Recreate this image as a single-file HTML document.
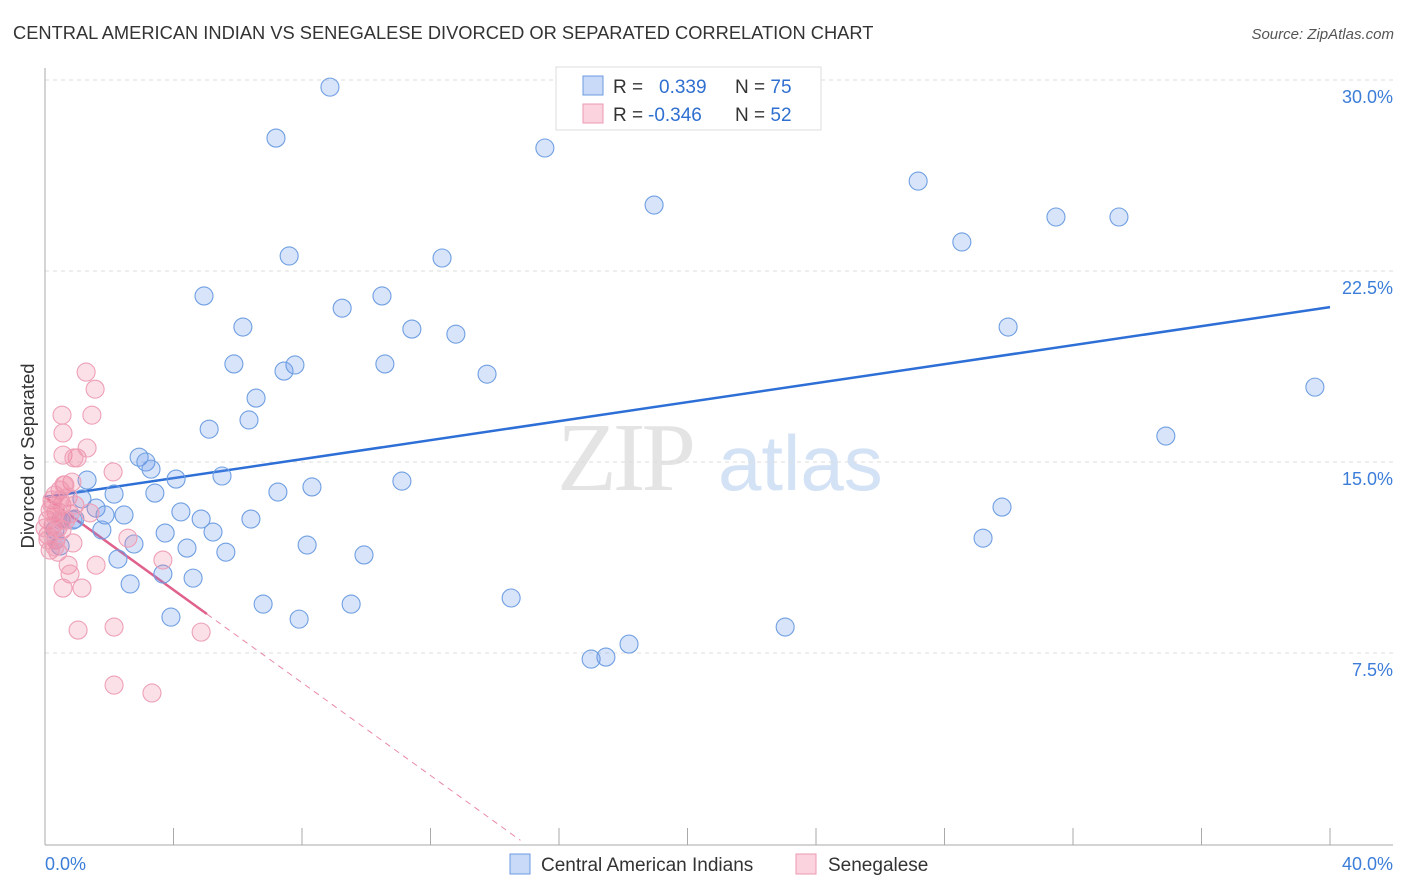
<!DOCTYPE html>
<html><head><meta charset="utf-8"><style>
body{margin:0;background:#fff;font-family:"Liberation Sans",sans-serif;}
#wrap{position:relative;width:1406px;height:892px;overflow:hidden;}
</style></head><body>
<div id="wrap">
<svg id="svg" width="1406" height="892" xmlns="http://www.w3.org/2000/svg">
<text x="13" y="39" font-size="18.3" fill="#333">CENTRAL AMERICAN INDIAN VS SENEGALESE DIVORCED OR SEPARATED CORRELATION CHART</text>
<text x="1394" y="39" font-size="15" fill="#555" font-style="italic" text-anchor="end">Source: ZipAtlas.com</text>
<text transform="translate(34,456) rotate(-90)" font-size="18.5" fill="#333" text-anchor="middle">Divorced or Separated</text>
<g>
<text x="692" y="490" font-size="98" font-family="Liberation Serif,serif" fill="#e4e4e4" text-anchor="end" letter-spacing="-4">ZIP</text>
<text x="718" y="490" font-size="78" fill="#d4e2f5">atlas</text>
</g>
<g id="grid"></g>
<g id="axes"></g>
<g id="lines"></g>
<g id="pts"></g>
<g>
<rect x="556" y="67" width="265" height="63" fill="#fff" stroke="#ddd"/>
<rect x="583" y="76" width="20" height="19" fill="rgba(100,149,237,0.35)" stroke="#6a9be0"/>
<rect x="583" y="104" width="20" height="19" fill="rgba(240,130,160,0.35)" stroke="#ec9ab3"/>
<text x="613" y="93" font-size="19" fill="#333">R = <tspan fill="#2f6fd0" x="659">0.339</tspan><tspan fill="#333" x="735">N = </tspan><tspan fill="#2f6fd0">75</tspan></text>
<text x="613" y="121" font-size="19" fill="#333">R = <tspan fill="#2f6fd0" x="648">-0.346</tspan><tspan fill="#333" x="735">N = </tspan><tspan fill="#2f6fd0">52</tspan></text>
</g>
<g>
<rect x="510" y="854" width="20" height="20" fill="rgba(100,149,237,0.35)" stroke="#6a9be0"/>
<text x="541" y="871" font-size="19" fill="#333">Central American Indians</text>
<rect x="796" y="854" width="20" height="20" fill="rgba(240,130,160,0.35)" stroke="#ec9ab3"/>
<text x="828" y="871" font-size="19" fill="#333">Senegalese</text>
</g>
</svg>
</div>
<script>
const yTicks=[7.5,15.0,22.5,30.0];
const yTickLabels=["7.5%","15.0%","22.5%","30.0%"];
const xTicks=[0,4,8,12,16,20,24,28,32,36,40];
const xLabels=["0.0%","40.0%"];
const blueX=[8.87,7.19,15.56,27.18,18.96,31.47,33.43,7.60,12.36,28.54,4.95,10.49,9.25,6.16,11.42,12.79,29.98,5.88,7.78,10.58,7.44,13.76,39.53,6.57,6.35,5.11,34.89,2.93,3.14,3.30,4.08,5.51,1.31,11.11,8.31,7.25,3.42,2.15,1.15,1.59,29.79,4.23,2.46,1.87,0.93,4.86,6.41,0.50,0.87,0.31,1.77,3.74,5.23,29.20,0.34,2.77,8.16,0.47,4.42,5.63,9.93,2.27,3.67,4.61,2.65,14.51,6.79,9.53,3.92,7.91,23.04,18.18,17.46,17.00];
const blueY=[29.72,27.72,27.33,26.03,25.09,24.62,24.62,23.09,23.01,23.64,21.52,21.52,21.04,20.30,20.22,20.02,20.30,18.85,18.81,18.85,18.57,18.45,17.94,17.51,16.65,16.29,16.02,15.19,15.00,14.72,14.33,14.45,14.29,14.25,14.02,13.82,13.78,13.74,13.55,13.19,13.23,13.04,12.92,12.92,12.76,12.76,12.76,12.72,12.72,12.33,12.33,12.21,12.25,12.01,11.94,11.78,11.74,11.70,11.62,11.46,11.35,11.19,10.60,10.44,10.21,9.66,9.42,9.42,8.91,8.83,8.52,7.85,7.34,7.26];
const pinkX=[1.28,1.56,0.53,1.46,0.56,0.56,1.00,1.31,0.90,2.12,0.84,0.62,0.47,0.31,0.22,0.72,0.53,0.16,0.34,0.78,0.65,0.09,0.25,0.40,0.09,0.53,0.34,0.87,2.58,0.16,0.40,0.72,1.59,0.78,0.56,1.15,3.67,1.03,2.15,4.86,2.15,3.33,1.40,0.09,0.22,0.53,0.00,0.31,0.47,0.93,0.59,0.28];
const pinkY=[18.53,17.86,16.84,16.84,16.14,15.27,15.16,15.55,15.16,14.61,14.21,14.10,13.90,13.70,13.51,13.62,13.31,13.11,13.04,12.96,12.72,12.72,12.52,12.41,12.13,12.33,11.94,11.82,12.01,11.54,11.46,10.95,10.95,10.60,10.05,10.05,11.15,8.40,8.52,8.32,6.24,5.93,13.00,11.94,13.31,12.72,12.41,11.66,13.51,13.31,14.10,12.92];
const blueTrend=[13.62,21.08];
const pinkTrend=[13.62,9.03,5.04,14.8];
const X0=45,X1=1330,Y0=844,PX=(X1-X0)/40,PY=191/7.5;
const sx=v=>X0+v*PX, sy=v=>Y0-v*PY;
const NS="http://www.w3.org/2000/svg";
function mk(t,a,p){const e=document.createElementNS(NS,t);for(const k in a)e.setAttribute(k,a[k]);p.appendChild(e);return e;}
const grid=document.getElementById('grid'),axes=document.getElementById('axes'),lines=document.getElementById('lines'),pts=document.getElementById('pts');
yTicks.forEach((v,i)=>{
 const l=mk('line',{x1:X0,x2:1393,y1:sy(v),y2:sy(v),stroke:'#ddd','stroke-dasharray':'4,4'},grid);
 
 
 const t=mk('text',{x:1393,y:sy(v)+23,'font-size':18,fill:'#3b7dd8','text-anchor':'end'},grid);
 t.textContent=yTickLabels[i];
 
 
});
const ya=mk('line',{x1:X0,x2:X0,y1:68,y2:845,stroke:'#aaa'},axes);


const xa=mk('line',{x1:X0,x2:1393,y1:845,y2:845,stroke:'#aaa'},axes);


xTicks.forEach(v=>{
 const t=mk('line',{x1:sx(v),x2:sx(v),y1:828,y2:845,stroke:'#aaa'},axes);
 
 
});
const xl0=mk('text',{x:X0,y:870,'font-size':18,fill:'#3b7dd8'},axes);xl0.textContent=xLabels[0];


const xl1=mk('text',{x:1393,y:870,'font-size':18,fill:'#3b7dd8','text-anchor':'end'},axes);xl1.textContent=xLabels[1];


function dot(x,y,f,s,n){const c=mk('circle',{cx:sx(x),cy:sy(y),r:9,fill:f,stroke:s,'stroke-width':1.1},pts);
 
 }
blueX.forEach((x,i)=>dot(x,blueY[i],'rgba(100,149,237,0.25)','#6f9fe2','point-central-american-indian'));
pinkX.forEach((x,i)=>dot(x,pinkY[i],'rgba(240,130,160,0.25)','#eea0b7','point-senegalese'));
const bl=mk('line',{x1:sx(0),y1:sy(blueTrend[0]),x2:sx(40),y2:sy(blueTrend[1]),stroke:'#2d6fd6','stroke-width':2.5},lines);


const slope=(pinkTrend[1]-pinkTrend[0])/pinkTrend[2];
const pl=mk('line',{x1:sx(0),y1:sy(pinkTrend[0]),x2:sx(pinkTrend[2]),y2:sy(pinkTrend[1]),stroke:'#e0628c','stroke-width':2.5},lines);


const pd=mk('line',{x1:sx(pinkTrend[2]),y1:sy(pinkTrend[1]),x2:sx(pinkTrend[3]),y2:sy(pinkTrend[0]+slope*pinkTrend[3]),stroke:'#e88aa5','stroke-width':1,'stroke-dasharray':'6,5'},lines);


</script>
</body></html>
